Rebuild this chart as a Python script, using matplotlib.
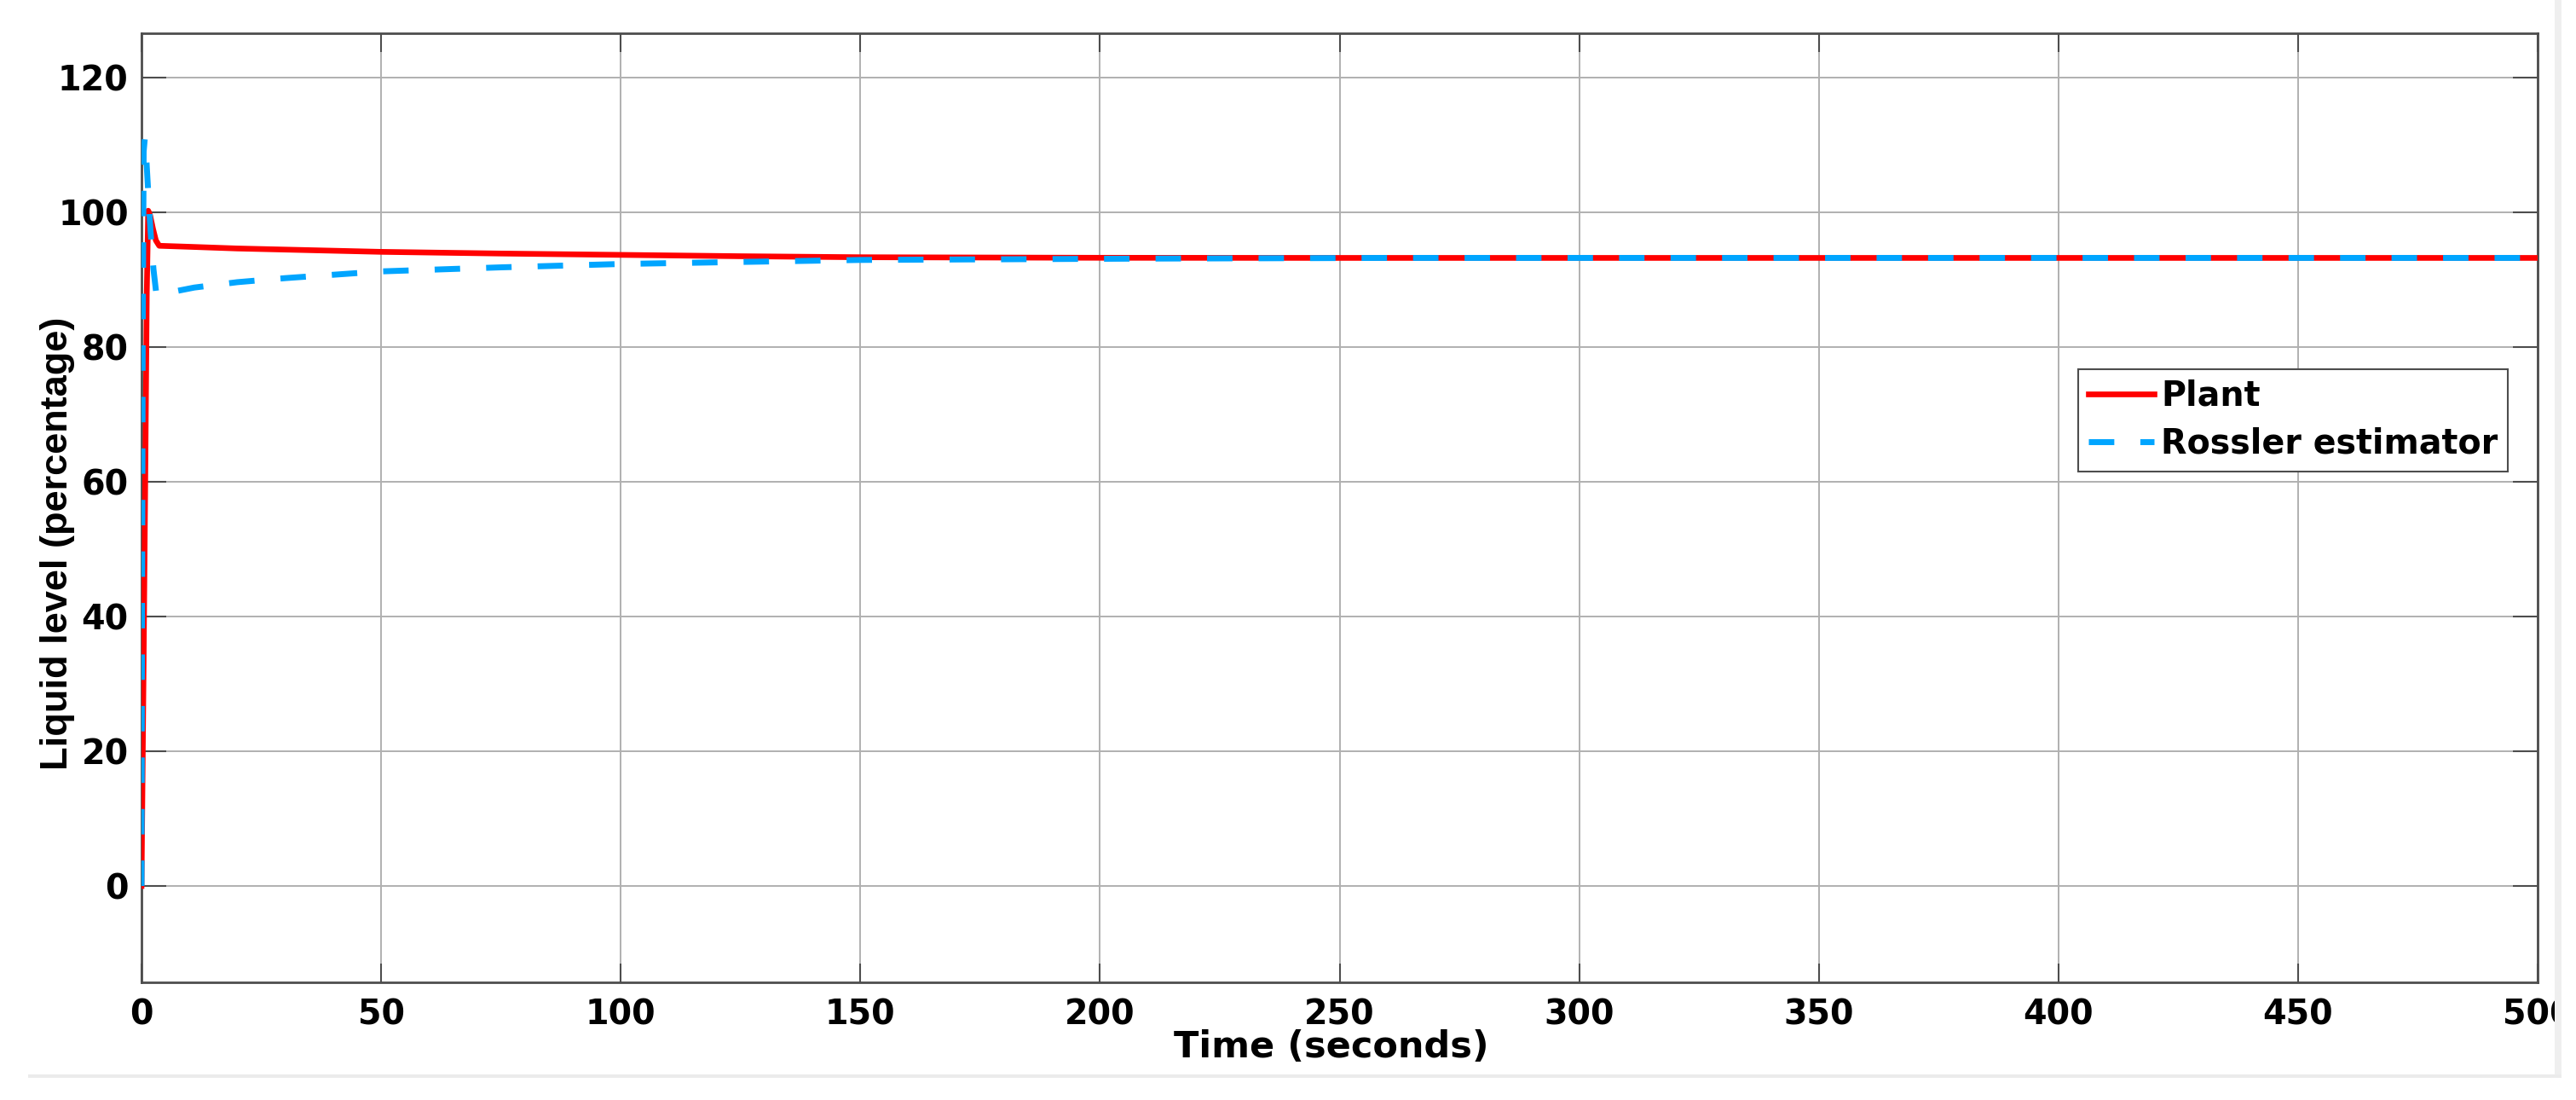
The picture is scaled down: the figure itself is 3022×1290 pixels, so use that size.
import numpy as np
import matplotlib
matplotlib.use("Agg")
import matplotlib.pyplot as plt
from matplotlib.patches import Rectangle


# ==========================================
# Data
# ==========================================

plant_time = [0, 0.4, 0.8, 1.1, 1.4, 1.8, 2.4, 3.0, 3.7, 10, 20, 35, 50,
              75, 100, 125, 150, 200, 250, 300, 500]
plant_level = [0, 30, 62, 88, 100.2, 99.5, 97.5, 95.8, 95.0, 94.85, 94.6,
               94.35, 94.1, 93.85, 93.65, 93.45, 93.3, 93.22, 93.2, 93.2, 93.2]

est_time = [0, 0.1, 0.25, 0.45, 0.7, 1.0, 1.4, 1.9, 2.5, 3.1, 4, 6, 11, 20,
            30, 50, 75, 100, 150, 210, 260, 300, 500]
est_level = [0, 35, 80, 109, 111, 108, 103, 97, 91.5, 87.8, 87.7, 88.1, 88.8,
             89.6, 90.2, 91.2, 91.8, 92.3, 92.9, 93.1, 93.2, 93.2, 93.2]

x_ticks = list(range(0, 501, 50))
y_ticks = list(range(0, 121, 20))

labels = ["Plant", "Rossler estimator"]


# ==========================================
# Settings
# ==========================================

W, H = 3022, 1290
DPI = 100

RED = "#ff0000"
BLUE = "#00a5ff"
AXIS_GREY = "#4d4d4d"
GRID_GREY = "#b0b0b0"

TICK_FONT = "DejaVu Sans"


def px_x(x):
    return x / W


def px_y(y):
    return 1 - y / H


# ==========================================
# Figure
# ==========================================

fig = plt.figure(figsize=(W / DPI, H / DPI), dpi=DPI)
fig.patch.set_facecolor("white")

left, right, top, bottom = 166, 2977, 39.3, 1152
ax = fig.add_axes([px_x(left), px_y(bottom), (right - left) / W, (bottom - top) / H])

ax.plot(plant_time, plant_level, color=RED, lw=4.8, label=labels[0], zorder=3)
ax.plot(est_time, est_level, color=BLUE, lw=5, dashes=(4.3, 4.4),
        label=labels[1], zorder=4)

ax.set_xlim(0, 500)
ax.set_ylim(-14.3, 126.5)
ax.set_xticks(x_ticks)
ax.set_yticks(y_ticks)

ax.grid(True, color=GRID_GREY, lw=1.4)
ax.set_axisbelow(True)

for side in ax.spines.values():
    side.set_color(AXIS_GREY)
    side.set_linewidth(2)

ax.tick_params(axis="x", direction="in", length=16, width=1.5, color=AXIS_GREY,
               top=True, pad=13, labelsize=28.5)
ax.tick_params(axis="y", direction="in", length=21, width=1.5, color=AXIS_GREY,
               right=True, pad=11, labelsize=28.5)
for lbl in ax.get_xticklabels() + ax.get_yticklabels():
    lbl.set_fontfamily(TICK_FONT)
    lbl.set_fontweight("bold")

# axis labels placed where the reference has them
fig.text(px_x(1562), px_y(1228), "Time (seconds)", ha="center", va="center",
         fontsize=31, fontweight="bold", family="DejaVu Sans")
fig.text(px_x(68), px_y(637), "Liquid level (percentage)", ha="center",
         va="center", rotation=90, fontsize=32.5, fontweight="bold",
         family=["Liberation Sans", "DejaVu Sans"])

leg = ax.legend(loc="upper left", bbox_to_anchor=((2438 - left) / (right - left),
                                                  (bottom - 433) / (bottom - top)),
                borderaxespad=0, prop={"family": "DejaVu Sans", "weight": "bold", "size": 28.5},
                handlelength=1.95, handletextpad=0.2, borderpad=0.3,
                labelspacing=0.4, fancybox=False, framealpha=1)
leg.get_frame().set_edgecolor(AXIS_GREY)
leg.get_frame().set_linewidth(1.5)

# screenshot border: clipped right edge and light frame lines
fig.add_artist(Rectangle((px_x(2997), 0), 1 - px_x(2997), 1,
                         transform=fig.transFigure, facecolor="white",
                         edgecolor="none", zorder=10))
fig.add_artist(Rectangle((px_x(2997), px_y(1262)), px_x(8), 1 - px_y(1262),
                         transform=fig.transFigure, facecolor="#efefef",
                         edgecolor="none", zorder=11))
fig.add_artist(Rectangle((px_x(33), px_y(1264)), px_x(3005 - 33), px_x(4) * W / H,
                         transform=fig.transFigure, facecolor="#ebebeb",
                         edgecolor="none", zorder=11))

fig.savefig("out.png", dpi=DPI)
